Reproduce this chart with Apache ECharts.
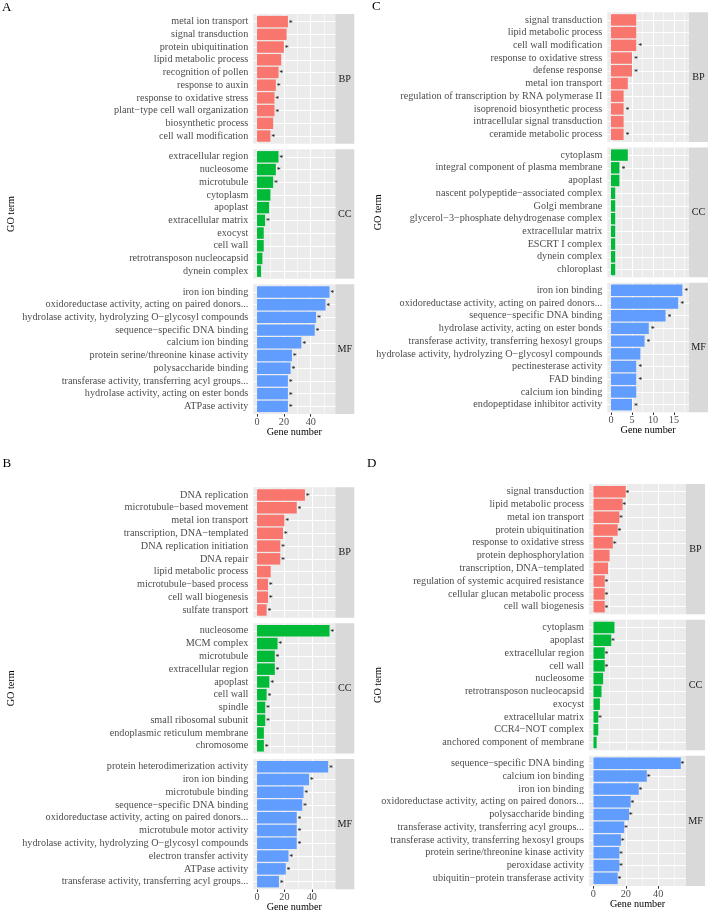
<!DOCTYPE html>
<html>
<head>
<meta charset="UTF-8">
<title>GO term enrichment</title>
<style>
    html, body {
        margin: 0;
        padding: 0;
        background: #ffffff;
    }
    #chart {
        width: 709px;
        height: 912px;
    }
</style>
<script src="https://cdn.jsdelivr.net/npm/echarts@6/dist/echarts.min.js"></script>
</head>
<body>
<div id="chart"></div>
<script type="text/javascript">
// ---- panel A ----
var aBpTerms = ['metal ion transport', 'signal transduction', 'protein ubiquitination', 'lipid metabolic process',
    'recognition of pollen', 'response to auxin', 'response to oxidative stress', 'plant\u2212type cell wall organization',
    'biosynthetic process', 'cell wall modification'];
var aBpCounts = [23, 22, 20, 18, 16, 14, 13, 13, 12, 10];
var aBpSig = [1, 0, 1, 0, 1, 1, 1, 1, 0, 1];
var aCcTerms = ['extracellular region', 'nucleosome', 'microtubule', 'cytoplasm', 'apoplast', 'extracellular matrix',
    'exocyst', 'cell wall', 'retrotransposon nucleocapsid', 'dynein complex'];
var aCcCounts = [16, 14, 12, 10, 9, 6, 5, 5, 4, 3];
var aCcSig = [1, 1, 1, 0, 0, 1, 0, 0, 0, 0];
var aMfTerms = ['iron ion binding', 'oxidoreductase activity, acting on paired donors...',
    'hydrolase activity, hydrolyzing O\u2212glycosyl compounds', 'sequence\u2212specific DNA binding', 'calcium ion binding',
    'protein serine/threonine kinase activity', 'polysaccharide binding', 'transferase activity, transferring acyl groups...',
    'hydrolase activity, acting on ester bonds', 'ATPase activity'];
var aMfCounts = [54, 51, 44, 43, 33, 26, 25, 23, 23, 23];
var aMfSig = [1, 1, 1, 1, 1, 1, 1, 1, 1, 1];

// ---- panel B ----
var bBpTerms = ['DNA replication', 'microtubule\u2212based movement', 'metal ion transport', 'transcription, DNA\u2212templated',
    'DNA replication initiation', 'DNA repair', 'lipid metabolic process', 'microtubule\u2212based process',
    'cell wall biogenesis', 'sulfate transport'];
var bBpCounts = [35, 29, 20, 19, 17, 17, 10, 8, 8, 7];
var bBpSig = [1, 1, 1, 1, 1, 1, 0, 1, 1, 1];
var bCcTerms = ['nucleosome', 'MCM complex', 'microtubule', 'extracellular region', 'apoplast', 'cell wall', 'spindle',
    'small ribosomal subunit', 'endoplasmic reticulum membrane', 'chromosome'];
var bCcCounts = [53, 15, 13, 13, 9, 7, 6, 6, 5, 5];
var bCcSig = [1, 1, 1, 1, 1, 1, 1, 1, 0, 1];
var bMfTerms = ['protein heterodimerization activity', 'iron ion binding', 'microtubule binding',
    'sequence\u2212specific DNA binding', 'oxidoreductase activity, acting on paired donors...', 'microtubule motor activity',
    'hydrolase activity, hydrolyzing O\u2212glycosyl compounds', 'electron transfer activity', 'ATPase activity',
    'transferase activity, transferring acyl groups...'];
var bMfCounts = [52, 38, 34, 33, 29, 29, 29, 23, 21, 16];
var bMfSig = [1, 1, 1, 1, 1, 1, 1, 1, 1, 1];

// ---- panel C ----
var cBpTerms = ['signal transduction', 'lipid metabolic process', 'cell wall modification', 'response to oxidative stress',
    'defense response', 'metal ion transport', 'regulation of transcription by RNA polymerase II',
    'isoprenoid biosynthetic process', 'intracellular signal transduction', 'ceramide metabolic process'];
var cBpCounts = [6, 6, 6, 5, 5, 4, 3, 3, 3, 3];
var cBpSig = [0, 0, 1, 1, 1, 0, 0, 1, 0, 1];
var cCcTerms = ['cytoplasm', 'integral component of plasma membrane', 'apoplast', 'nascent polypeptide\u2212associated complex',
    'Golgi membrane', 'glycerol\u22123\u2212phosphate dehydrogenase complex', 'extracellular matrix', 'ESCRT I complex',
    'dynein complex', 'chloroplast'];
var cCcCounts = [4, 2, 2, 1, 1, 1, 1, 1, 1, 1];
var cCcSig = [0, 1, 0, 0, 0, 0, 0, 0, 0, 0];
var cMfTerms = ['iron ion binding', 'oxidoreductase activity, acting on paired donors...', 'sequence\u2212specific DNA binding',
    'hydrolase activity, acting on ester bonds', 'transferase activity, transferring hexosyl groups',
    'hydrolase activity, hydrolyzing O\u2212glycosyl compounds', 'pectinesterase activity', 'FAD binding',
    'calcium ion binding', 'endopeptidase inhibitor activity'];
var cMfCounts = [17, 16, 13, 9, 8, 7, 6, 6, 6, 5];
var cMfSig = [1, 1, 1, 1, 1, 0, 1, 1, 0, 1];

// ---- panel D ----
var dBpTerms = ['signal transduction', 'lipid metabolic process', 'metal ion transport', 'protein ubiquitination',
    'response to oxidative stress', 'protein dephosphorylation', 'transcription, DNA\u2212templated',
    'regulation of systemic acquired resistance', 'cellular glucan metabolic process', 'cell wall biogenesis'];
var dBpCounts = [20, 18, 16, 15, 12, 10, 9, 7, 7, 7];
var dBpSig = [1, 1, 1, 1, 1, 0, 0, 1, 1, 1];
var dCcTerms = ['cytoplasm', 'apoplast', 'extracellular region', 'cell wall', 'nucleosome', 'retrotransposon nucleocapsid',
    'exocyst', 'extracellular matrix', 'CCR4\u2212NOT complex', 'anchored component of membrane'];
var dCcCounts = [13, 11, 7, 7, 6, 5, 4, 3, 3, 2];
var dCcSig = [0, 1, 1, 1, 0, 0, 0, 1, 0, 0];
var dMfTerms = ['sequence\u2212specific DNA binding', 'calcium ion binding', 'iron ion binding',
    'oxidoreductase activity, acting on paired donors...', 'polysaccharide binding',
    'transferase activity, transferring acyl groups...', 'transferase activity, transferring hexosyl groups',
    'protein serine/threonine kinase activity', 'peroxidase activity', 'ubiquitin\u2212protein transferase activity'];
var dMfCounts = [54, 33, 28, 23, 22, 19, 17, 16, 16, 15];
var dMfSig = [1, 1, 1, 1, 1, 1, 1, 1, 1, 1];

var ontologies = ['BP', 'CC', 'MF'];
var wideTicks = [0, 20, 40];
var wideMinor = [10, 30, 50];
var narrowTicks = [0, 5, 10, 15];
var narrowMinor = [2.5, 7.5, 12.5, 17.5];

var FONT = '"Liberation Serif", "Times New Roman", serif';
var FS = 10.2;
var barColors = ['#F8766D', '#00BA38', '#619CFF'];

// layout of each sub figure (panel box in px)
var panels = [
    {tag: 'A', facets: [[aBpTerms, aBpCounts, aBpSig], [aCcTerms, aCcCounts, aCcSig], [aMfTerms, aMfCounts, aMfSig]],
        xMin: -2.78, xMax: 58.3, ticks: wideTicks, minor: wideMinor,
        left: 253.3, right: 335.3, stripW: 19, top: 14, bottom: 414, star: 0.8,
        tagX: 2, tagY: 7.5, titleX: 11.5},
    {tag: 'B', facets: [[bBpTerms, bBpCounts, bBpSig], [bCcTerms, bCcCounts, bCcSig], [bMfTerms, bMfCounts, bMfSig]],
        xMin: -2.73, xMax: 57.2, ticks: wideTicks, minor: wideMinor,
        left: 253.3, right: 335.3, stripW: 19, top: 487.3, bottom: 889.3, star: 0.8,
        tagX: 2.5, tagY: 463.5, titleX: 11.5},
    {tag: 'C', facets: [[cBpTerms, cBpCounts, cBpSig], [cCcTerms, cCcCounts, cCcSig], [cMfTerms, cMfCounts, cMfSig]],
        xMin: -0.885, xMax: 18.585, ticks: narrowTicks, minor: narrowMinor,
        left: 607.3, right: 689, stripW: 19, top: 12.3, bottom: 412.3, star: 2,
        tagX: 372, tagY: 6.5, titleX: 378.3},
    {tag: 'D', facets: [[dBpTerms, dBpCounts, dBpSig], [dCcTerms, dCcCounts, dCcSig], [dMfTerms, dMfCounts, dMfSig]],
        xMin: -2.73, xMax: 57.2, ticks: wideTicks, minor: wideMinor,
        left: 589, right: 686, stripW: 19, top: 484, bottom: 886, star: -0.2,
        tagX: 367, tagY: 463.5, titleX: 378}
];

var grids = [], xAxes = [], yAxes = [], series = [], graphics = [];
var GAP = 5.5;

panels.forEach(function (p) {
    var h = (p.bottom - p.top - 2 * GAP) / 3;
    var w = p.right - p.left;
    p.facets.forEach(function (f, k) {
        var terms = f[0], counts = f[1], sig = f[2];
        var ft = p.top + k * (h + GAP);
        var inset = h / (terms.length + 0.2) * 0.1;
        var isBottom = (k === 2);

        // background grid (grey panel, vertical grid lines, x axis)
        var bg = grids.length;
        grids.push({left: p.left, top: ft, width: w, height: h, show: true,
            backgroundColor: '#EBEBEB', borderWidth: 0});
        xAxes.push({
            gridIndex: bg, type: 'value', min: p.xMin, max: p.xMax,
            axisLine: {show: false},
            splitLine: {show: false},
            axisTick: {show: isBottom, customValues: p.ticks, length: 2.7,
                lineStyle: {color: '#333333', width: 1}},
            axisLabel: {show: isBottom, customValues: p.ticks, color: '#4D4D4D',
                fontFamily: FONT, fontSize: FS, margin: 3.5}
        });
        yAxes.push({gridIndex: bg, type: 'value', min: 0, max: 1, show: false});
        var vLines = p.ticks.map(function (v) {
            return {xAxis: v, lineStyle: {color: '#ffffff', width: 1.1, type: 'solid'}};
        }).concat(p.minor.map(function (v) {
            return {xAxis: v, lineStyle: {color: '#ffffff', width: 0.55, type: 'solid'}};
        }));
        series.push({
            type: 'scatter', xAxisIndex: bg, yAxisIndex: bg, data: [], silent: true, z: 1,
            markLine: {silent: true, z: 1, symbol: ['none', 'none'], label: {show: false}, animation: false, data: vLines}
        });

        // data grid: bars with the category axis
        var dg = grids.length;
        grids.push({left: p.left, top: ft + inset, width: w, height: h - 2 * inset});
        xAxes.push({gridIndex: dg, type: 'value', min: p.xMin, max: p.xMax, show: false});
        yAxes.push({
            gridIndex: dg, type: 'category', data: terms, inverse: true,
            axisLine: {show: false},
            axisTick: {show: true, alignWithLabel: true, interval: 0, length: 2.7,
                lineStyle: {color: '#333333', width: 1}},
            axisLabel: {interval: 0, color: '#4D4D4D', fontFamily: FONT, fontSize: FS, margin: 5},
            splitLine: {show: false}
        });
        series.push({
            type: 'scatter', xAxisIndex: dg, yAxisIndex: dg, data: [], silent: true, z: 1,
            markLine: {silent: true, z: 1, symbol: ['none', 'none'], label: {show: false}, animation: false,
                data: terms.map(function (t) {
                    return {yAxis: t, lineStyle: {color: '#ffffff', width: 1.1, type: 'solid'}};
                })}
        });
        series.push({
            type: 'bar', xAxisIndex: dg, yAxisIndex: dg, data: counts, z: 3,
            barCategoryGap: '10%', silent: true,
            itemStyle: {color: barColors[k]},
            label: {
                show: true, position: 'right', distance: p.star, offset: [0, 1.8],
                color: '#000000', fontFamily: FONT, fontSize: 8,
                formatter: function (params) {
                    return sig[params.dataIndex] ? '*' : '';
                }
            }
        });

        // facet strip
        graphics.push({type: 'rect', shape: {x: p.right, y: ft, width: p.stripW, height: h},
            style: {fill: '#D9D9D9'}, silent: true});
        graphics.push({type: 'text', x: p.right + p.stripW / 2, y: ft + h / 2,
            style: {text: ontologies[k], fill: '#1A1A1A', fontFamily: FONT, fontSize: FS,
                textAlign: 'center', textVerticalAlign: 'middle'}, silent: true});
    });

    // sub figure tag, axis titles
    graphics.push({type: 'text', x: p.tagX, y: p.tagY,
        style: {text: p.tag, fill: '#000000', fontFamily: FONT, fontSize: 13,
            textAlign: 'left', textVerticalAlign: 'middle'}, silent: true});
    graphics.push({type: 'text', x: (p.left + p.right) / 2, y: p.bottom + 18,
        style: {text: 'Gene number', fill: '#000000', fontFamily: FONT, fontSize: FS,
            textAlign: 'center', textVerticalAlign: 'middle'}, silent: true});
    graphics.push({type: 'text', x: p.titleX, y: (p.top + p.bottom) / 2, rotation: Math.PI / 2,
        style: {text: 'GO term', fill: '#000000', fontFamily: FONT, fontSize: FS,
            textAlign: 'center', textVerticalAlign: 'middle'}, silent: true});
});

var myChart = echarts.init(document.getElementById('chart'), null, {renderer: 'canvas'});
var option = {
    animation: false,
    backgroundColor: '#ffffff',
    textStyle: {fontFamily: FONT},
    grid: grids,
    xAxis: xAxes,
    yAxis: yAxes,
    series: series,
    graphic: graphics
};
myChart.setOption(option);
</script>
</body>
</html>
